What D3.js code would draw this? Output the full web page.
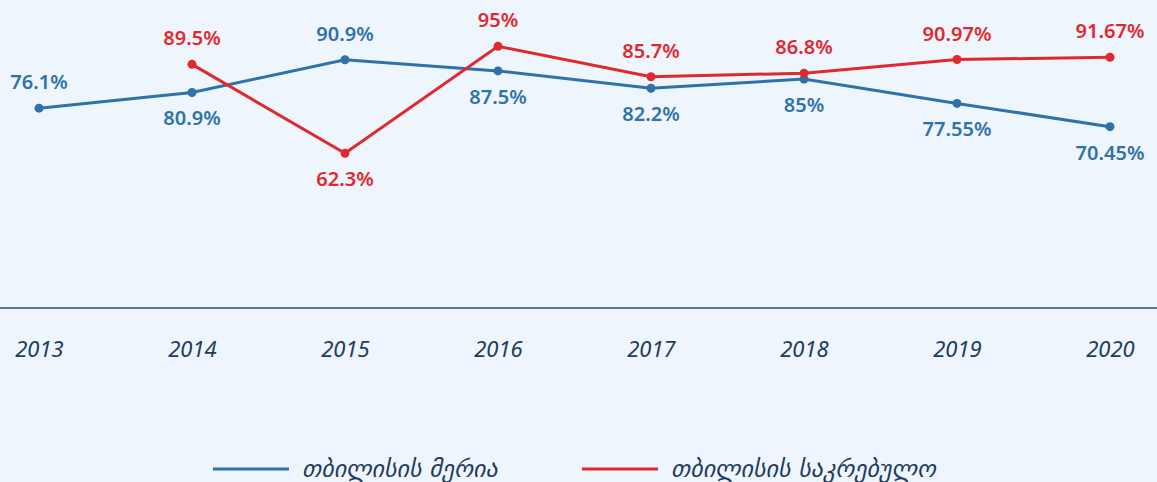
<!DOCTYPE html>
<html>
<head>
<meta charset="utf-8">
<script src="https://cdn.jsdelivr.net/npm/d3@7"></script>
<style>
  html, body { margin: 0; padding: 0; background: #eff5fc; }
  svg { display: block; }
</style>
</head>
<body>
<script>
const w = 1157;
const h = 482;

const years = ["2013", "2014", "2015", "2016", "2017", "2018", "2019", "2020"];
const meriaVals = [76.1, 80.9, 90.9, 87.5, 82.2, 85, 77.55, 70.45];
const meriaLabels = ["76.1%", "80.9%", "90.9%", "87.5%", "82.2%", "85%", "77.55%", "70.45%"];
const meriaAbove = [true, false, true, false, false, false, false, false];
const sakrebuloVals = [null, 89.5, 62.3, 95, 85.7, 86.8, 90.97, 91.67];
const sakrebuloLabels = ["", "89.5%", "62.3%", "95%", "85.7%", "86.8%", "90.97%", "91.67%"];
const sakrebuloAbove = [false, true, false, true, true, true, true, true];
const seriesNames = ["თბილისის მერია", "თბილისის საკრებულო"];
const seriesColors = ["#2e72a8", "#e0292f"];

const xScale = d3.scalePoint().domain(years).range([39, 1110]);
const yScale = d3.scaleLinear().domain([15, 100]).range([308, 30]);

const svg = d3.select("body")
              .append("svg")
              .attr("width", w)
              .attr("height", h);

// x axis
const xAxis = d3.axisBottom(xScale).tickSize(0).tickPadding(33);
const gx = svg.append("g")
   .attr("transform", "translate(0,308)")
   .call(xAxis);
gx.select(".domain").remove();
gx.append("line")
  .attr("x1", 0).attr("x2", w)
  .attr("stroke", "#2d4a68").attr("stroke-width", 1.5);
gx.selectAll(".tick text")
  .attr("fill", "#1f3c5c")
  .style("font-family", "'Noto Sans', sans-serif")
  .style("font-style", "italic")
  .style("font-size", "22px");

const series = [
  {vals: meriaVals, labels: meriaLabels, above: meriaAbove, color: seriesColors[0]},
  {vals: sakrebuloVals, labels: sakrebuloLabels, above: sakrebuloAbove, color: seriesColors[1]}
];

const line = d3.line()
  .defined(d => d.v != null)
  .x(d => xScale(d.year))
  .y(d => yScale(d.v));

series.forEach(s => {
  const pts = years.map((y, i) => ({year: y, v: s.vals[i], label: s.labels[i], above: s.above[i]}));
  const valid = pts.filter(d => d.v != null);

  svg.append("path")
     .datum(pts)
     .attr("d", line)
     .attr("fill", "none")
     .attr("stroke", s.color)
     .attr("stroke-width", 3);

  svg.selectAll(null)
     .data(valid)
     .enter()
     .append("circle")
     .attr("cx", d => xScale(d.year))
     .attr("cy", d => yScale(d.v))
     .attr("r", 4.5)
     .attr("fill", s.color);

  svg.selectAll(null)
     .data(valid)
     .enter()
     .append("text")
     .attr("x", d => xScale(d.year))
     .attr("y", d => yScale(d.v) + (d.above ? -26 : 26))
     .attr("dy", "0.35em")
     .attr("text-anchor", "middle")
     .attr("fill", s.color)
     .style("font-family", "'Noto Sans', sans-serif")
     .style("font-weight", "600")
     .style("font-size", "20px")
     .text(d => d.label);
});

// legend
const legendX = [213, 582];
const legend = svg.selectAll(".legend")
  .data(seriesNames)
  .enter()
  .append("g")
  .attr("transform", (d, i) => "translate(" + legendX[i] + ",469)");

legend.append("line")
  .attr("x1", 0).attr("x2", 76)
  .attr("stroke", (d, i) => seriesColors[i])
  .attr("stroke-width", 3);

legend.append("text")
  .attr("x", 89)
  .attr("dy", "0.35em")
  .attr("fill", "#1f3c5c")
  .style("font-family", "'DejaVu Sans', sans-serif")
  .style("font-style", "italic")
  .style("font-size", "24px")
  .text(d => d);
</script>
</body>
</html>
